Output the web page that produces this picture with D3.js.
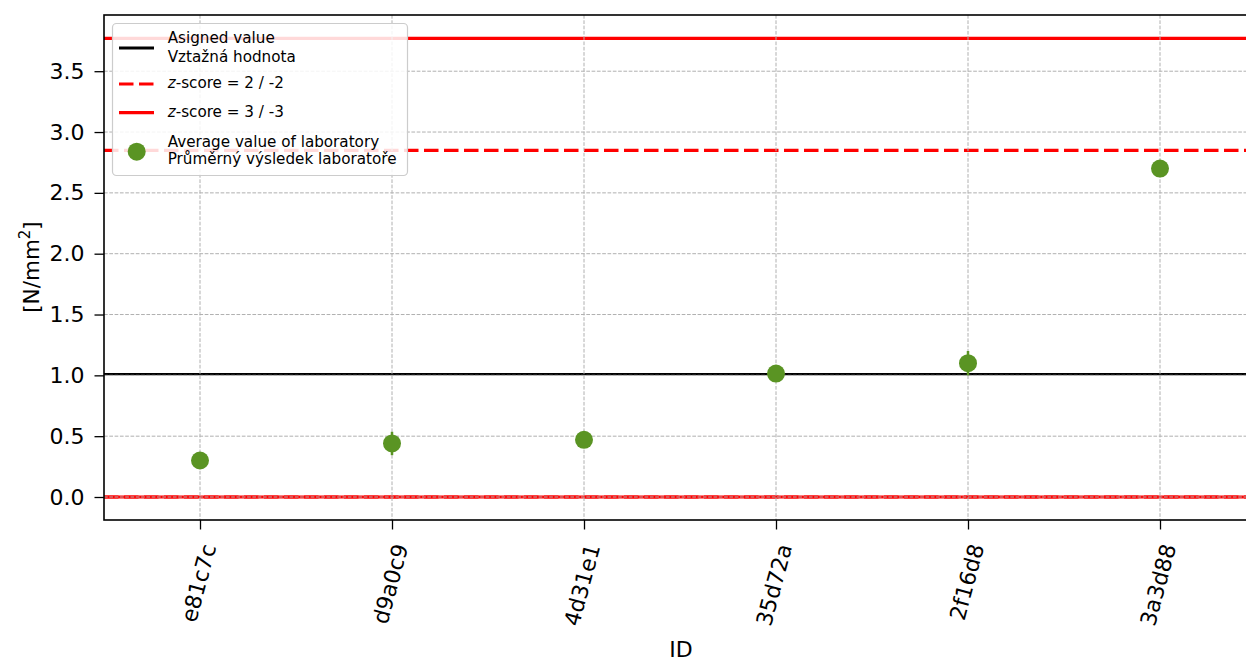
<!DOCTYPE html>
<html><head><meta charset="utf-8">
<script src="https://cdn.jsdelivr.net/npm/d3@7"></script>
<style>body{margin:0;background:#fff;} svg{display:block;} text{font-family:"DejaVu Sans",sans-serif;}</style>
</head><body>
<svg id="c" width="1246" height="662"></svg>
<script>
const ids = ["e81c7c","d9a0c9","4d31e1","35d72a","2f16d8","3a3d88"];
const values = [0.30, 0.44, 0.47, 1.015, 1.10, 2.70];
const errors = [0.02, 0.096, 0.02, 0.02, 0.10, 0.02];
const assigned = 1.01;
const z2 = [2.85, 0.0];
const z3 = [3.77, 0.0];
const yTicks = [0, 0.5, 1, 1.5, 2, 2.5, 3, 3.5];

const svg = d3.select("#c");
const L = 104, R = 1256, T = 15, B = 520;
const x = d3.scaleLinear().domain([-0.5, ids.length - 0.5]).range([L, R]);
const y = d3.scaleLinear().domain([-0.189, 3.962]).range([B, T]);

svg.append("defs").append("clipPath").attr("id","pc")
  .append("rect").attr("x",L).attr("y",T).attr("width",R-L).attr("height",B-T);
const g = svg.append("g").attr("clip-path","url(#pc)");

const red = "#ff0000";
// reference lines
g.append("line").attr("x1",L).attr("x2",R).attr("y1",y(assigned)).attr("y2",y(assigned))
  .attr("stroke","#000").attr("stroke-width",2.2);
z2.forEach(v => g.append("line").attr("x1",L).attr("x2",R).attr("y1",y(v)).attr("y2",y(v))
  .attr("stroke",red).attr("stroke-width",3.2).attr("stroke-dasharray","14.5,5.5"));
z3.forEach(v => g.append("line").attr("x1",L).attr("x2",R).attr("y1",y(v)).attr("y2",y(v))
  .attr("stroke",red).attr("stroke-width",3.2));

// grid
const grid = {stroke:"#b0b0b0", w:1, dash:"3.7,1.6"};
yTicks.forEach(v => g.append("line").attr("x1",L).attr("x2",R).attr("y1",y(v)).attr("y2",y(v))
  .attr("stroke",grid.stroke).attr("stroke-width",grid.w).attr("stroke-dasharray",grid.dash));
ids.forEach((d,i) => g.append("line").attr("x1",x(i)).attr("x2",x(i)).attr("y1",T).attr("y2",B)
  .attr("stroke",grid.stroke).attr("stroke-width",grid.w).attr("stroke-dasharray",grid.dash));

// error bars & points
const green = "#5a9423";
ids.forEach((d,i) => {
  g.append("line").attr("x1",x(i)).attr("x2",x(i))
    .attr("y1",y(values[i]-errors[i])).attr("y2",y(values[i]+errors[i]))
    .attr("stroke",green).attr("stroke-width",2.5);
  g.append("circle").attr("cx",x(i)).attr("cy",y(values[i])).attr("r",9).attr("fill",green);
});

// axes
const yAxis = d3.axisLeft(y).tickValues(yTicks).tickFormat(d3.format(".1f")).tickSize(9.5).tickPadding(10);
const ya = svg.append("g").attr("transform",`translate(${L},0)`).call(yAxis);
ya.attr("font-size",null).attr("font-family",null);
ya.select(".domain").remove();
ya.selectAll("text").style("font-size","22px").attr("fill","#000");
ya.selectAll("line").attr("stroke","#000").attr("stroke-width",1.3);

const xa = svg.append("g").attr("transform",`translate(0,${B})`)
  .call(d3.axisBottom(x).tickValues(d3.range(ids.length)).tickFormat(i => ids[i]).tickSize(9.5));
xa.attr("font-size",null).attr("font-family",null);
xa.select(".domain").remove();
xa.selectAll("line").attr("stroke","#000").attr("stroke-width",1.3);
xa.selectAll("text").style("font-size","22px").attr("fill","#000")
  .attr("text-anchor","end").attr("dy",null).attr("y",null)
  .attr("transform","translate(10,25) rotate(-75)").attr("dominant-baseline","middle");

// frame
svg.append("rect").attr("x",L).attr("y",T).attr("width",R-L).attr("height",B-T)
  .attr("fill","none").attr("stroke","#000").attr("stroke-width",1.6);

// axis labels
svg.append("text").attr("transform",`translate(39,267) rotate(-90)`).attr("text-anchor","middle")
  .style("font-size","21.5px").html('[N/mm<tspan dy="-9" style="font-size:15px">2</tspan><tspan dy="9">]</tspan>');
svg.append("text").attr("x",681).attr("y",657).attr("text-anchor","middle").style("font-size","22px").text("ID");

// legend
const lg = svg.append("g");
lg.append("rect").attr("x",112.5).attr("y",23.5).attr("width",295).attr("height",152).attr("rx",4)
  .attr("fill","#fff").attr("fill-opacity",0.85).attr("stroke","#cccccc").attr("stroke-width",1.2);
lg.append("line").attr("x1",119).attr("x2",154).attr("y1",48).attr("y2",48).attr("stroke","#000").attr("stroke-width",2.8);
lg.append("line").attr("x1",119).attr("x2",154).attr("y1",84).attr("y2",84).attr("stroke",red).attr("stroke-width",3.2).attr("stroke-dasharray","14.5,5.5");
lg.append("line").attr("x1",119).attr("x2",154).attr("y1",112.7).attr("y2",112.7).attr("stroke",red).attr("stroke-width",3.2);
lg.append("circle").attr("cx",136.7).attr("cy",151.7).attr("r",9).attr("fill",green);
const lt = (yy, s) => lg.append("text").attr("x",167.7).attr("y",yy).style("font-size","15.2px").html(s);
lt(43.3, "Asigned value");
lt(61.7, "Vztažná hodnota");
lt(87.7, '<tspan font-style="italic">z</tspan>-score = 2 / -2');
lt(116.7, '<tspan font-style="italic">z</tspan>-score = 3 / -3');
lt(146.7, "Average value of laboratory");
lt(164.3, "Průměrný výsledek laboratoře");
</script>
</body></html>
